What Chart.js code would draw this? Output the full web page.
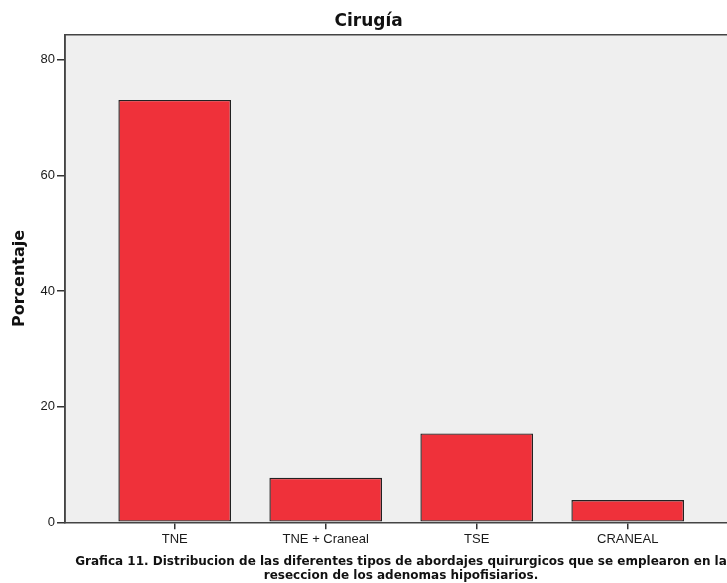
<!DOCTYPE html>
<html>
<head>
<meta charset="utf-8">
<script src="https://cdn.jsdelivr.net/npm/chart.js@4.4.1/dist/chart.umd.min.js"></script>
<style>
body { margin: 0; overflow: hidden; background: #fff; width: 727px; height: 583px; position: relative; }
#wrap { position: absolute; left: 0; top: 0; width: 740px; height: 583px; }
#caption {
    position: absolute; left: 0; top: 555px; width: 802px; text-align: center;
    font: bold 12px "DejaVu Sans", sans-serif; line-height: 13.5px; color: #111;
}
</style>
</head>
<body>
<div id="wrap"><canvas id="chart" width="740" height="583"></canvas></div>
<div id="caption">Grafica 11. Distribucion de las diferentes tipos de abordajes quirurgicos que se emplearon en la<br>reseccion de los adenomas hipofisiarios.</div>
<script>
'use strict';

// Cirugía - porcentaje por tipo de abordaje
var categories = ['TNE', 'TNE + Craneal', 'TSE', 'CRANEAL'];
var porcentajes = [73.08, 7.69, 15.38, 3.85];
var yTicks = [0, 20, 40, 60, 80];

var barPoints = [];
for (var i = 0; i < categories.length; i++) {
    barPoints.push({ x: i, y: porcentajes[i] });
}

// fondo gris y marco del area de trazado
var plotFrame = {
    id: 'plotFrame',
    beforeDraw: function (chart) {
        var a = chart.chartArea;
        var ctx = chart.ctx;
        ctx.save();
        ctx.fillStyle = '#efefef';
        ctx.fillRect(a.left, a.top, a.right - a.left, a.bottom - a.top);
        ctx.strokeStyle = '#444';
        ctx.lineWidth = 1.5;
        ctx.beginPath();
        ctx.moveTo(a.left, a.bottom);
        ctx.lineTo(a.left, a.top);
        ctx.lineTo(a.right, a.top);
        ctx.lineTo(a.right, a.bottom);
        ctx.stroke();
        ctx.restore();
    }
};

var ctx = document.getElementById('chart').getContext('2d');
var chart = new Chart(ctx, {
    type: 'bar',
    data: {
        datasets: [{
            data: barPoints,
            backgroundColor: '#ef313a',
            borderColor: '#222',
            borderWidth: 1.4,
            borderSkipped: false,
            barPercentage: 0.746,
            categoryPercentage: 1
        }]
    },
    options: {
        responsive: false,
        animation: false,
        layout: { padding: { left: 0, right: 2.6, top: 0, bottom: 0 } },
        plugins: {
            legend: { display: false },
            tooltip: { enabled: false },
            title: {
                display: true,
                text: 'Cirugía',
                color: '#111',
                font: { family: 'DejaVu Sans', size: 17, weight: 'bold' },
                padding: { top: 11, bottom: 3.3 }
            }
        },
        scales: {
            x: {
                type: 'linear',
                offset: false,
                min: -0.7265,
                max: 3.7265,
                afterBuildTicks: function (scale) {
                    scale.ticks = categories.map(function (c, idx) { return { value: idx }; });
                },
                afterFit: function (scale) { scale.height = 60.7; },
                ticks: {
                    color: '#1a1a1a',
                    font: { family: 'Liberation Sans', size: 13 },
                    padding: 2,
                    maxRotation: 0,
                    autoSkip: false,
                    callback: function (v) { return categories[v]; }
                },
                grid: { offset: false, drawOnChartArea: false, drawTicks: true, tickLength: 7, color: '#333', lineWidth: 1.5 },
                border: { display: true, color: '#444', width: 1.5 }
            },
            y: {
                min: 0,
                max: 84.36,
                afterBuildTicks: function (scale) {
                    scale.ticks = yTicks.map(function (t) { return { value: t }; });
                },
                afterFit: function (scale) { scale.width = 65; },
                ticks: {
                    color: '#1a1a1a',
                    font: { family: 'Liberation Sans', size: 13 },
                    padding: 2
                },
                grid: { drawOnChartArea: false, drawTicks: true, tickLength: 8, color: '#333', lineWidth: 1.5 },
                border: { display: true, color: '#444', width: 1.5 },
                title: {
                    display: true,
                    text: 'Porcentaje',
                    color: '#111',
                    font: { family: 'DejaVu Sans', size: 16, weight: 'bold' },
                    padding: { top: 10, bottom: 0 }
                }
            }
        }
    },
    plugins: [plotFrame]
});
</script>
</body>
</html>
